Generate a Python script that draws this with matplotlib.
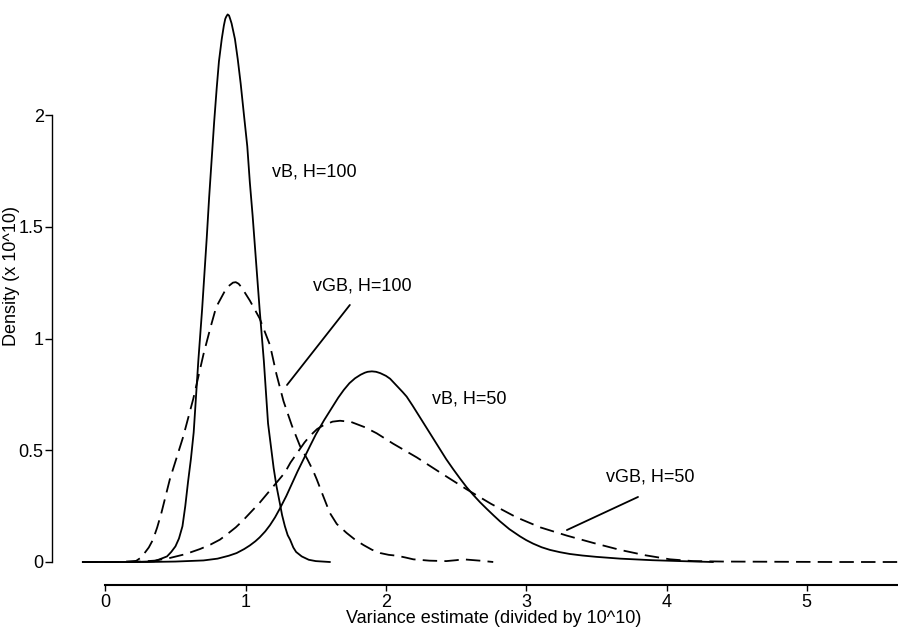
import matplotlib
matplotlib.use("Agg")
import matplotlib.pyplot as plt

plt.rcParams['font.family'] = ['Liberation Sans', 'DejaVu Sans']

# ---- data ----
vB100_x = [-0.16, 0.20, 0.35, 0.44, 0.47, 0.50, 0.525, 0.55, 0.57, 0.59, 0.61, 0.63, 0.663,
           0.69, 0.723, 0.74, 0.758, 0.776, 0.794, 0.81, 0.83, 0.845, 0.855, 0.862, 0.872,
           0.882, 0.89, 0.90, 0.924, 0.944, 0.965, 0.99, 1.012, 1.03, 1.05, 1.075, 1.10,
           1.13, 1.16, 1.20, 1.22, 1.245, 1.26, 1.28, 1.30, 1.317, 1.34, 1.36, 1.40, 1.45,
           1.50, 1.60]
vB100_y = [0, 0, 0.003, 0.025, 0.045, 0.07, 0.105, 0.16, 0.25, 0.36, 0.46, 0.58, 0.90,
           1.13, 1.45, 1.63, 1.80, 1.97, 2.12, 2.24, 2.34, 2.40, 2.43, 2.44, 2.45,
           2.445, 2.43, 2.41, 2.34, 2.25, 2.14, 1.99, 1.86, 1.70, 1.55, 1.34, 1.13,
           0.90, 0.62, 0.42, 0.34, 0.26, 0.21, 0.16, 0.12, 0.10, 0.065, 0.045, 0.025, 0.01,
           0.004, 0.0]

vGB100_x = [-0.16, 0.10, 0.22, 0.25, 0.28, 0.31, 0.34, 0.37, 0.40, 0.43, 0.46, 0.51, 0.555,
            0.627, 0.70, 0.75, 0.79, 0.85, 0.88, 0.91, 0.93, 0.95, 0.97, 1.00, 1.03, 1.10,
            1.174, 1.22, 1.27, 1.33, 1.387, 1.44, 1.48, 1.507, 1.55, 1.60, 1.65, 1.72, 1.78,
            1.84, 1.90, 1.96, 2.02, 2.08, 2.14, 2.195, 2.31, 2.43, 2.50, 2.55, 2.61, 2.67,
            2.765]
vGB100_y = [0, 0, 0.005, 0.018, 0.04, 0.065, 0.10, 0.155, 0.22, 0.295, 0.37, 0.47, 0.56,
            0.73, 0.93, 1.05, 1.14, 1.21, 1.235, 1.25, 1.252, 1.245, 1.23, 1.20, 1.17, 1.09,
            0.97, 0.84, 0.72, 0.61, 0.52, 0.46, 0.41, 0.37, 0.30, 0.22, 0.17, 0.13, 0.10,
            0.076, 0.055, 0.04, 0.032, 0.028, 0.02, 0.012, 0.006, 0.004, 0.008, 0.012, 0.009,
            0.006, 0.0]

vB50_x = [-0.16, 0.30, 0.50, 0.70, 0.80, 0.88, 0.936, 0.99, 1.03, 1.07, 1.10, 1.14, 1.174,
          1.21, 1.245, 1.29, 1.33, 1.37, 1.413, 1.46, 1.50, 1.56, 1.625, 1.66, 1.70, 1.74,
          1.78, 1.82, 1.85, 1.87, 1.90, 1.93, 1.96, 2.00, 2.03, 2.06, 2.09, 2.12, 2.148,
          2.19, 2.24, 2.29, 2.338, 2.385, 2.43, 2.48, 2.53, 2.575, 2.623, 2.67, 2.72, 2.77,
          2.813, 2.88, 2.955, 3.00, 3.05, 3.11, 3.17, 3.24, 3.31, 3.40, 3.50, 3.67, 3.90,
          4.10, 4.33]
vB50_y = [0, 0, 0.002, 0.007, 0.015, 0.028, 0.04, 0.058, 0.074, 0.093, 0.11, 0.137, 0.165,
          0.20, 0.24, 0.295, 0.35, 0.405, 0.46, 0.52, 0.57, 0.635, 0.70, 0.735, 0.77, 0.80,
          0.822, 0.838, 0.847, 0.851, 0.853, 0.851, 0.845, 0.833, 0.82, 0.80, 0.78, 0.76, 0.74,
          0.70, 0.65, 0.60, 0.552, 0.505, 0.46, 0.415, 0.372, 0.335, 0.30, 0.268, 0.237, 0.207,
          0.182, 0.147, 0.115, 0.098, 0.082, 0.066, 0.054, 0.044, 0.036, 0.029, 0.023, 0.015,
          0.008, 0.004, 0.0]

vGB50_x = [-0.16, 0.20, 0.35, 0.46, 0.57, 0.675, 0.75, 0.817, 0.87, 0.93, 0.98, 1.04, 1.10,
           1.16, 1.22, 1.28, 1.32, 1.37, 1.42, 1.46, 1.51, 1.55, 1.62, 1.673, 1.75, 1.85,
           1.934, 2.05, 2.22, 2.40, 2.576, 2.75, 2.93, 3.10, 3.29, 3.48, 3.67, 3.85, 4.025,
           4.19, 4.40, 4.80, 5.20, 5.65]
vGB50_y = [0, 0, 0.006, 0.018, 0.035, 0.058, 0.078, 0.10, 0.125, 0.155, 0.185, 0.225, 0.265,
           0.31, 0.355, 0.40, 0.445, 0.49, 0.535, 0.565, 0.595, 0.61, 0.628, 0.632, 0.627, 0.603,
           0.576, 0.53, 0.468, 0.395, 0.325, 0.26, 0.20, 0.155, 0.118, 0.085, 0.054, 0.03, 0.012,
           0.004, 0.002, 0.001, 0.0, 0.0]

x_ticks = [0, 1, 2, 3, 4, 5]
x_tick_labels = ['0', '1', '2', '3', '4', '5']
y_ticks = [0, 0.5, 1, 1.5, 2]
y_tick_labels = ['0', '0.5', '1', '1.5', '2']

labels = ['vB, H=100', 'vGB, H=100', 'vB, H=50', 'vGB, H=50']

# ---- figure ----
W, H = 898, 627
fig = plt.figure(figsize=(W / 100, H / 100), dpi=100)
ax_l, ax_r, ax_b, ax_t = 52, 898, 585, 5
ax = fig.add_axes([ax_l / W, 1 - ax_b / H, (ax_r - ax_l) / W, (ax_b - ax_t) / H])

x0px, xs = 105.3, 140.3
y0px, ys = 562.0, 223.5
ax.set_xlim((ax_l - x0px) / xs, (ax_r - x0px) / xs)
ax.set_ylim((y0px - ax_b) / ys, (y0px - ax_t) / ys)

dash = (0, (8, 4))
lw = 1.3
ax.plot(vB100_x, vB100_y, color='black', lw=lw, clip_on=False, solid_joinstyle='round')
ax.plot(vGB100_x, vGB100_y, color='black', lw=lw, linestyle=dash, clip_on=False)
ax.plot(vB50_x, vB50_y, color='black', lw=lw, clip_on=False, solid_joinstyle='round')
ax.plot(vGB50_x, vGB50_y, color='black', lw=lw, linestyle=dash, clip_on=False)

fs = 13
ax.text(1.188, 1.724, labels[0], fontsize=fs, ha='left', va='baseline')
ax.text(1.480, 1.217, labels[1], fontsize=fs, ha='left', va='baseline')
ax.text(2.329, 0.709, labels[2], fontsize=fs, ha='left', va='baseline')
ax.text(3.569, 0.362, labels[3], fontsize=fs, ha='left', va='baseline')

ax.annotate('', xy=(1.295, 0.792), xytext=(1.743, 1.150),
            arrowprops=dict(arrowstyle='-', color='black', lw=1.3, shrinkA=0, shrinkB=0))
ax.annotate('', xy=(3.29, 0.143), xytext=(3.797, 0.291),
            arrowprops=dict(arrowstyle='-', color='black', lw=1.3, shrinkA=0, shrinkB=0))

for s in ['top', 'right']:
    ax.spines[s].set_visible(False)
ax.spines['left'].set_bounds(0, 2)
ax.spines['bottom'].set_bounds(0, (ax_r - x0px) / xs)
ax.spines['left'].set_linewidth(1.0)
ax.spines['bottom'].set_linewidth(1.5)

ax.set_xticks(x_ticks)
ax.set_xticklabels(x_tick_labels)
ax.set_yticks(y_ticks)
ax.set_yticklabels(y_tick_labels)
ax.tick_params(axis='x', direction='out', length=4, width=1.0, pad=2.5, labelsize=fs)
ax.tick_params(axis='y', direction='out', length=5, width=1.0, pad=1, labelsize=fs)
ax.patch.set_alpha(0)

fig.text(12 / W, 1 - 276 / H, 'Density (x 10^10)', rotation=90, ha='center', va='center', fontsize=fs)
fig.text(494 / W, 1 - 623 / H, 'Variance estimate (divided by 10^10)', ha='center', va='baseline', fontsize=fs)

fig.savefig('out.png', dpi=100, facecolor='white')
